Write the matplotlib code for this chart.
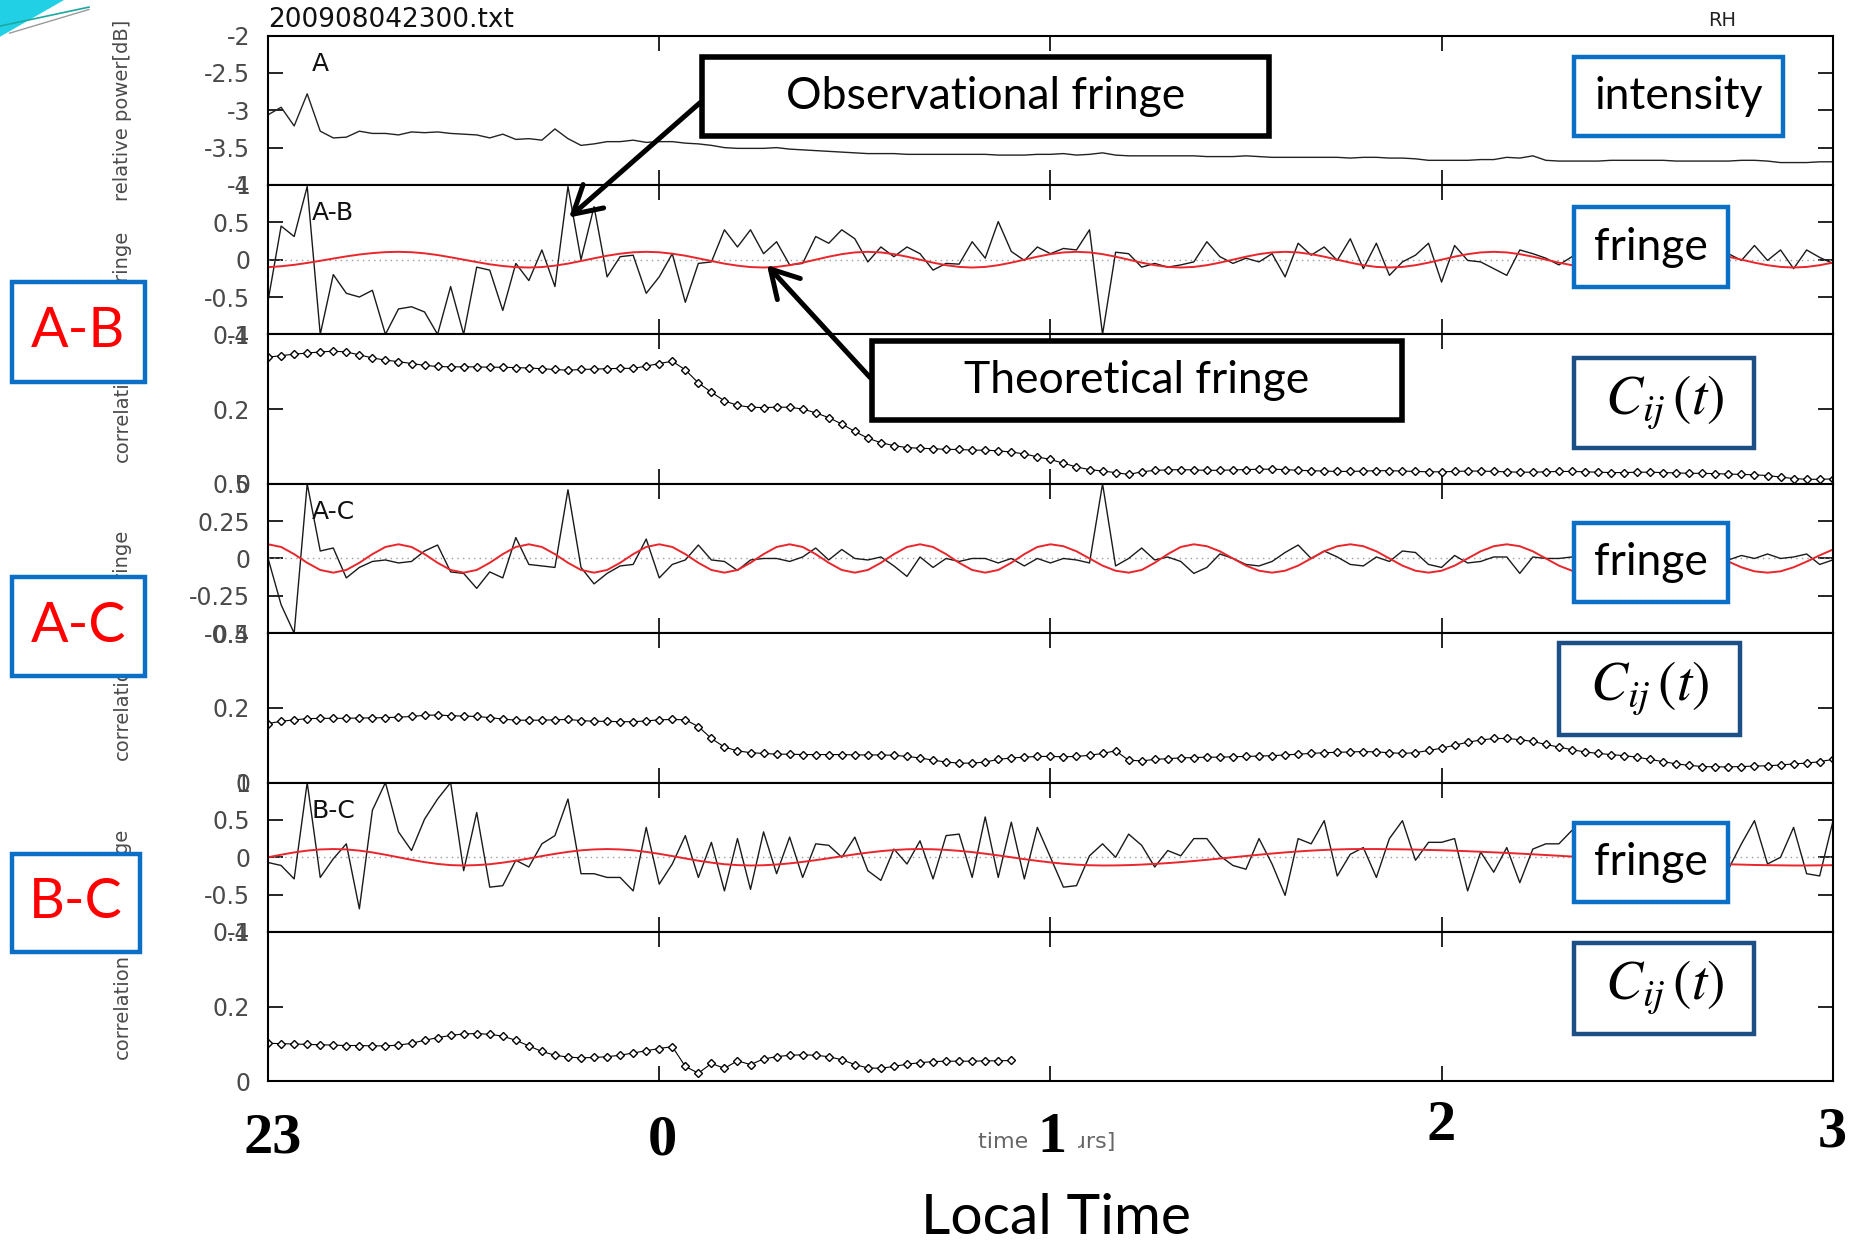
import numpy as np
import matplotlib
matplotlib.use("Agg")
import matplotlib.pyplot as plt
from matplotlib.patches import Rectangle, FancyArrowPatch, Polygon
from matplotlib.lines import Line2D

# ---------- data: samples every 2 min after 23:00 ----------
minutes = np.arange(0, 241, 2)

intensity_a = [
    -3.06, -2.96, -3.21, -2.78, -3.28, -3.37, -3.36, -3.28, -3.31, -3.31,
    -3.33, -3.29, -3.30, -3.29, -3.31, -3.32, -3.33, -3.37, -3.32, -3.39,
    -3.38, -3.40, -3.25, -3.38, -3.47, -3.45, -3.42, -3.42,
    -3.40, -3.43, -3.42, -3.42, -3.44, -3.45, -3.47, -3.50, -3.51, -3.51,
    -3.51, -3.50, -3.52, -3.53, -3.54, -3.55, -3.56, -3.57, -3.58, -3.58,
    -3.58, -3.59, -3.59, -3.59, -3.59, -3.59, -3.59, -3.59, -3.60, -3.60,
    -3.60, -3.59, -3.59, -3.58, -3.60, -3.59, -3.57, -3.60, -3.61, -3.61,
    -3.61, -3.61, -3.61, -3.61, -3.62, -3.62, -3.62, -3.61,
    -3.62, -3.63, -3.63, -3.63, -3.63, -3.63, -3.63, -3.64, -3.63, -3.63,
    -3.64, -3.64, -3.65, -3.67, -3.67, -3.67, -3.67, -3.66, -3.66, -3.63,
    -3.64, -3.61, -3.67, -3.68, -3.68, -3.68, -3.68, -3.67, -3.67, -3.67,
    -3.67, -3.67, -3.68, -3.68, -3.68, -3.68, -3.68, -3.67, -3.67, -3.68,
    -3.70, -3.70, -3.70, -3.69, -3.69,
]

fringe_ab = [
    -0.55, 0.45, 0.31, 0.98, -1.0, -0.2, -0.45, -0.50, -0.41, -1.0,
    -0.66, -0.63, -0.70, -1.0, -0.36, -1.0, -0.10, -0.14, -0.68, -0.05,
    -0.28, 0.13, -0.36, 0.98, 0.0, 0.71, -0.23, 0.04, 0.06, -0.45,
    -0.23, 0.08, -0.57, -0.05, -0.03, 0.40, 0.17, 0.40, 0.08, 0.24,
    -0.07, -0.05, 0.31, 0.22, 0.40, 0.28, -0.03, 0.17, 0.04, 0.17,
    0.08, -0.14, -0.05, -0.06, 0.24, 0.02, 0.51, 0.11, -0.01, 0.17,
    0.08, 0.15, 0.13, 0.40, -1.0, 0.10, 0.08, -0.10, -0.05, -0.10,
    -0.07, -0.03, 0.24, 0.04, -0.05, 0.02, -0.03, 0.08, -0.23, 0.22,
    0.06, 0.17, -0.01, 0.28, -0.12, 0.22, -0.21, -0.03, 0.06, 0.22,
    -0.30, 0.19, -0.01, -0.03, -0.12, -0.21, 0.13, 0.08, 0.02, -0.07,
    0.04, 0.10, -0.05, 0.12, -0.08, 0.05, 0.15, -0.10, 0.06, -0.04,
    0.10, 0.0, 0.08, -0.01, 0.19, -0.01, 0.13, -0.12, 0.13, 0.03,
    -0.05,
]

theory_ab = [
    -0.101, -0.088, -0.069, -0.044, -0.015, 0.015, 0.044, 0.069, 0.088, 0.101, 0.105,
    0.100, 0.085, 0.062, 0.032, 0.0, -0.032, -0.062, -0.085, -0.100, -0.105,
    -0.099, -0.080, -0.053, -0.018, 0.018, 0.053, 0.080, 0.099, 0.105,
    0.099, 0.080, 0.053, 0.018, -0.018, -0.053, -0.080, -0.099, -0.105,
    -0.097, -0.074, -0.040, 0.0, 0.040, 0.074, 0.097, 0.105,
    0.097, 0.074, 0.040, 0.0, -0.040, -0.074, -0.097, -0.105,
    -0.097, -0.074, -0.040, 0.0, 0.040, 0.074, 0.097, 0.105,
    0.097, 0.074, 0.040, 0.0, -0.040, -0.074, -0.097, -0.105,
    -0.097, -0.074, -0.040, 0.0, 0.040, 0.074, 0.097, 0.105,
    0.097, 0.074, 0.040, 0.0, -0.040, -0.074, -0.097, -0.105,
    -0.097, -0.074, -0.040, 0.0, 0.040, 0.074, 0.097, 0.105,
    0.097, 0.074, 0.040, 0.0, -0.040, -0.074, -0.097, -0.105,
    -0.095, -0.065, -0.023, 0.023, 0.065, 0.095, 0.105,
    0.097, 0.074, 0.040, 0.0, -0.040, -0.074, -0.097, -0.105,
    -0.097, -0.074, -0.040,
]

corr_ab = [
    0.339, 0.343, 0.347, 0.350, 0.353, 0.355, 0.353, 0.345, 0.337, 0.331,
    0.327, 0.322, 0.317, 0.314, 0.313, 0.313, 0.313, 0.312, 0.312, 0.311,
    0.310, 0.308, 0.306, 0.304, 0.306, 0.307, 0.308, 0.309,
    0.309, 0.315, 0.322, 0.328, 0.305, 0.27, 0.245, 0.222, 0.210, 0.205,
    0.204, 0.205, 0.205, 0.200, 0.190, 0.177, 0.160, 0.140, 0.122, 0.110,
    0.102, 0.097, 0.095, 0.094, 0.092, 0.092, 0.090, 0.090, 0.088, 0.085,
    0.080, 0.072,
    0.065, 0.055, 0.045, 0.038, 0.034, 0.030, 0.025, 0.032, 0.036, 0.037,
    0.038, 0.037, 0.036, 0.036, 0.037, 0.038, 0.039, 0.039, 0.038, 0.036,
    0.035, 0.034, 0.033, 0.033, 0.034, 0.035, 0.035, 0.034, 0.033, 0.032,
    0.032, 0.033, 0.034, 0.034, 0.033, 0.032, 0.031, 0.031, 0.032, 0.033,
    0.033, 0.032, 0.031, 0.030, 0.030, 0.031, 0.031, 0.030, 0.029, 0.028,
    0.028, 0.027, 0.026, 0.025, 0.024, 0.022, 0.018, 0.014, 0.012, 0.012,
    0.013,
]

fringe_ac = [
    0.0, -0.31, -0.5, 0.5, 0.05, 0.07, -0.13, -0.06, -0.02, -0.01,
    -0.03, -0.02, 0.05, 0.09, -0.09, -0.10, -0.20, -0.09, -0.13, 0.14,
    -0.04, -0.05, -0.06, 0.46, -0.06, -0.17, -0.10, -0.05, -0.04, 0.13,
    -0.13, -0.04, -0.01, 0.09, -0.01, -0.02, -0.08, -0.01, 0.0, 0.0,
    -0.02, 0.01, 0.07, -0.01, 0.06, 0.0, -0.01, 0.01, -0.05, -0.12,
    0.01, -0.06, 0.0, -0.02, 0.0, 0.0, -0.03, 0.0, -0.05, 0.0,
    -0.03,
    0.0, -0.01, -0.03, 0.5, -0.05, 0.0, 0.07, -0.01, 0.01, -0.02,
    -0.10, -0.06, 0.03, 0.0, -0.04, -0.05, -0.02, 0.04, 0.09, 0.0,
    0.05, 0.01, -0.04, -0.05, 0.01, -0.02, 0.05, 0.04, -0.04, -0.06,
    0.02, -0.03, -0.02, 0.01, 0.01, -0.10, 0.01, 0.0, 0.0, 0.01,
    0.02, -0.01, 0.0, 0.03, -0.02, 0.01, -0.03, 0.02, 0.0, -0.01,
    0.01, -0.01, 0.02, 0.0, 0.03, 0.0, 0.01, 0.03, -0.04, -0.01,
]

theory_ac = [
    0.095,
    0.077, 0.029, -0.029, -0.077, -0.095,
    -0.077, -0.029, 0.029, 0.077, 0.095,
    0.077, 0.029, -0.029, -0.077, -0.095,
    -0.077, -0.029, 0.029, 0.077, 0.095,
    0.077, 0.029, -0.029, -0.077, -0.095,
    -0.077, -0.029, 0.029, 0.077, 0.095,
    0.077, 0.029, -0.029, -0.077, -0.095,
    -0.077, -0.029, 0.029, 0.077, 0.095,
    0.077, 0.029, -0.029, -0.077, -0.095,
    -0.077, -0.029, 0.029, 0.077, 0.095,
    0.077, 0.029, -0.029, -0.077, -0.095,
    -0.077, -0.029, 0.029, 0.077, 0.095,
    0.082, 0.048, 0.0, -0.048, -0.082, -0.095,
    -0.077, -0.029, 0.029, 0.077, 0.095,
    0.082, 0.048, 0.0, -0.048, -0.082, -0.095,
    -0.082, -0.048, 0.0, 0.048, 0.082, 0.095,
    0.082, 0.048, 0.0, -0.048, -0.082, -0.095,
    -0.082, -0.048, 0.0, 0.048, 0.082, 0.095,
    0.082, 0.048, 0.0, -0.048, -0.082, -0.095,
    -0.086, -0.059, -0.021, 0.021, 0.059, 0.086, 0.095,
    0.086, 0.059, 0.021, -0.021, -0.059, -0.086, -0.095,
    -0.086, -0.059, -0.021, 0.021, 0.059,
]

corr_ac = [
    0.158, 0.164, 0.168, 0.171, 0.172, 0.172, 0.172, 0.173, 0.173, 0.174,
    0.175, 0.177, 0.180, 0.181, 0.179, 0.178, 0.177, 0.174, 0.170, 0.167,
    0.167, 0.167, 0.168, 0.169, 0.166, 0.164, 0.164, 0.163,
    0.163, 0.165, 0.168, 0.169, 0.168, 0.150, 0.118, 0.095, 0.085, 0.080,
    0.078, 0.076, 0.076, 0.075, 0.075, 0.075, 0.075, 0.074, 0.074, 0.074,
    0.073, 0.070, 0.066, 0.060, 0.055, 0.052, 0.052, 0.055, 0.062, 0.066,
    0.068, 0.070, 0.070, 0.069, 0.070, 0.073, 0.078, 0.085, 0.060, 0.058,
    0.062, 0.064, 0.066, 0.067, 0.068, 0.068, 0.069, 0.070, 0.071, 0.072,
    0.074, 0.076, 0.078, 0.080, 0.081, 0.082, 0.083, 0.082, 0.080, 0.078,
    0.080, 0.086, 0.092, 0.100, 0.108, 0.114, 0.118, 0.118, 0.115, 0.110,
    0.102, 0.095, 0.088, 0.082, 0.078, 0.075, 0.072, 0.068, 0.062, 0.056,
    0.050, 0.046, 0.043, 0.042, 0.042, 0.043, 0.044, 0.045, 0.047, 0.050,
    0.052, 0.056, 0.062,
]

fringe_bc = [
    -0.07, -0.11, -0.29, 1.0, -0.27, -0.02, 0.18, -0.69, 0.63, 1.0,
    0.34, 0.09, 0.51, 0.78, 1.0, -0.18, 0.60, -0.40, -0.38, -0.04,
    -0.13, 0.18, 0.29, 0.78, -0.22, -0.22, -0.27, -0.27, -0.45, 0.40,
    -0.36, -0.09, 0.29, -0.27, 0.20, -0.45, 0.25, -0.43, 0.34, -0.22,
    0.27, -0.27, 0.18, 0.16, 0.0, 0.27, -0.18, -0.31, 0.11, -0.09,
    0.22, -0.29, 0.29, 0.31, -0.27, 0.54, -0.27, 0.47, -0.29, 0.40,
    0.0,
    -0.40, -0.38, 0.02, 0.18, 0.0, 0.31, 0.16, -0.13, 0.09, 0.02,
    0.25, 0.25, 0.02, -0.11, -0.16, 0.25, -0.09, -0.51, 0.25, 0.18,
    0.49, -0.25, 0.04, 0.13, -0.27, 0.25, 0.49, -0.04, 0.20, 0.20,
    0.25, -0.45, 0.07, -0.20, 0.13, -0.34, 0.11, 0.18, 0.18, 0.36,
    0.10, -0.20, 0.25, -0.10, 0.30, -0.15, 0.20, 0.05, -0.20, 0.30,
    -0.10, -0.16, 0.18, 0.49, -0.09, 0.0, 0.40, -0.22, -0.25, 0.47,
]

theory_bc = [
    0.0, 0.034, 0.065, 0.089, 0.105, 0.110,
    0.105, 0.089, 0.065, 0.034, 0.0, -0.034, -0.065, -0.089, -0.105, -0.110,
    -0.105, -0.093, -0.072, -0.046, -0.016, 0.016, 0.046, 0.072, 0.093, 0.105, 0.110,
    0.105, 0.093, 0.072, 0.046, 0.016, -0.016, -0.046, -0.072, -0.093, -0.105, -0.110,
    -0.107, -0.097, -0.082, -0.062, -0.039, -0.013, 0.013, 0.039, 0.062, 0.082,
    0.097, 0.107, 0.110,
    0.107, 0.099, 0.086, 0.069, 0.048, 0.025, 0.0, -0.025, -0.048, -0.069,
    -0.086, -0.099, -0.107, -0.110,
    -0.109, -0.105, -0.098, -0.089, -0.078, -0.065, -0.050, -0.034, -0.017, 0.0,
    0.017, 0.034, 0.050, 0.065, 0.078, 0.089, 0.098, 0.105, 0.109, 0.110,
    0.110, 0.108, 0.106, 0.103, 0.098, 0.094, 0.088, 0.081, 0.074, 0.066,
    0.058, 0.049, 0.040, 0.030, 0.020, 0.010, 0.0, -0.010, -0.020, -0.030,
    -0.040, -0.049, -0.058, -0.066, -0.074, -0.081, -0.088, -0.094, -0.098, -0.103,
    -0.106, -0.108, -0.110, -0.110, -0.108, -0.106,
]

corr_bc = [
    0.102, 0.101, 0.100, 0.099, 0.098, 0.097, 0.096, 0.096, 0.095, 0.095,
    0.097, 0.102, 0.110, 0.117, 0.123, 0.127, 0.128, 0.126, 0.121, 0.110,
    0.095, 0.080, 0.070, 0.065, 0.063, 0.064, 0.066, 0.070, 0.076, 0.082,
    0.088, 0.093, 0.040, 0.022, 0.048, 0.035, 0.055, 0.045, 0.060, 0.066,
    0.070, 0.071, 0.070, 0.066, 0.058, 0.045, 0.036, 0.035, 0.040, 0.046,
    0.050, 0.053, 0.054, 0.054, 0.054, 0.055, 0.055, 0.056,
]

hour_labels = ["23", "0", "1", "2", "3"]

# ---------- figure ----------
plt.rcParams["font.family"] = ["DejaVu Sans"]
plt.rcParams["mathtext.fontset"] = "stix"
plt.rcParams["axes.unicode_minus"] = False

# layout is measured on a 1568 x 1050 copy of the slide
W, H = 1568.0, 1050.0
def fx(x):
    return x / W
def fy(y):
    return 1 - y / H

fig = plt.figure(figsize=(18.6, 12.45), dpi=100)
fig.patch.set_facecolor("white")
axes = fig.subplots(7, 1, sharex=True,
                    gridspec_kw=dict(hspace=0, left=fx(226), right=fx(1545),
                                     top=fy(30), bottom=fy(912)))

hours = minutes / 60.0
TXT = "#4a4a4a"
RED = "#e8262b"

panels = [
    ("line", intensity_a, None, (-4, -2), [-4, -3.5, -3, -2.5, -2],
     ["-4", "-3.5", "-3", "-2.5", "-2"], "relative power[dB]", "A"),
    ("fringe", fringe_ab, theory_ab, (-1, 1), [-1, -0.5, 0, 0.5, 1],
     ["-1", "-0.5", "0", "0.5", "1"], "fringe", "A-B"),
    ("corr", corr_ab, None, (0, 0.4), [0, 0.2, 0.4],
     ["0", "0.2", "0.4"], "correlation", None),
    ("fringe", fringe_ac, theory_ac, (-0.5, 0.5), [-0.5, -0.25, 0, 0.25, 0.5],
     ["-0.5", "-0.25", "0", "0.25", "0.5"], "fringe", "A-C"),
    ("corr", corr_ac, None, (0, 0.4), [0, 0.2, 0.4],
     ["0", "0.2", "0.4"], "correlation", None),
    ("fringe", fringe_bc, theory_bc, (-1, 1), [-1, -0.5, 0, 0.5, 1],
     ["-1", "-0.5", "0", "0.5", "1"], "fringe", "B-C"),
    ("corr", corr_bc, None, (0, 0.4), [0, 0.2, 0.4],
     ["0", "0.2", "0.4"], "correlation", None),
]

for ax, (kind, obs, theo, ylim, yt, ytl, ylab, tag) in zip(axes, panels):
    t = hours[:len(obs)]
    if kind == "line":
        ax.plot(t, obs, color="#222222", lw=1.0)
    elif kind == "fringe":
        ax.axhline(0, color="#9a9a9a", ls=(0, (1, 3)), lw=1.0)
        ax.plot(t, obs, color="#1a1a1a", lw=1.0)
        ax.plot(hours[:len(theo)], theo, color=RED, lw=1.4)
    else:
        ax.plot(t, obs, color="black", lw=0.8, marker="D", ms=4.2,
                mfc="white", mec="black", mew=1.0)
    ax.set_xlim(0, 4)
    ax.set_ylim(*ylim)
    ax.set_yticks(yt)
    ax.set_yticklabels(ytl)
    ax.set_xticks([1, 2, 3])
    ax.tick_params(axis="x", direction="in", top=True, bottom=True,
                   length=11, width=1.2, labelbottom=False)
    ax.tick_params(axis="y", direction="in", left=True, right=True,
                   length=11, width=1.2, labelsize=17, labelcolor=TXT, pad=13)
    for s in ax.spines.values():
        s.set_linewidth(1.5)
    ax.set_ylabel(ylab, fontsize=14, color=TXT)
    ax.yaxis.set_label_coords(-0.087, 0.5)
    if tag:
        ax.text(0.028, 0.81, tag, transform=ax.transAxes, fontsize=18,
                ha="left", va="center", color="#111111")

fig.text(fx(226), fy(17), "200908042300.txt", fontsize=19, ha="left",
         va="center", color="#111111")
fig.text(fx(1452), fy(17), "RH", fontsize=14, ha="center", va="center",
         color="#222222")

# ---------- slide annotations ----------
SLIDE = ["Lato", "DejaVu Sans"]
BLUE = "#0b6fc6"
NAVY = "#1c4f86"

def slide_box(x0, y0, x1, y1, text, edge, color="black", size=32, lw=3.2,
              family=SLIDE):
    fig.add_artist(Rectangle((fx(x0), fy(y1)), fx(x1) - fx(x0), fy(y0) - fy(y1),
                             transform=fig.transFigure, facecolor="white",
                             edgecolor=edge, lw=lw, zorder=5))
    fig.text(fx((x0 + x1) / 2), fy((y0 + y1) / 2), text, fontsize=size,
             color=color, ha="center", va="center", family=family, zorder=6)

slide_box(592, 48, 1070, 115, "Observational fringe", "black", lw=4)
slide_box(735, 288, 1182, 354, "Theoretical fringe", "black", lw=4)
slide_box(1327, 48, 1503, 115, "intensity", BLUE)
for y0 in (175, 441, 694):
    slide_box(1327, y0, 1457, y0 + 67, "fringe", BLUE)
cij = r"$C_{ij}\,(t)$"
slide_box(1327, 302, 1479, 378, cij, NAVY, size=40)
slide_box(1314, 542, 1467, 620, cij, NAVY, size=40)
slide_box(1327, 795, 1479, 872, cij, NAVY, size=40)
slide_box(10, 238, 122, 322, "A-B", BLUE, color="#ff0000", size=40)
slide_box(10, 487, 122, 570, "A-C", BLUE, color="#ff0000", size=40)
slide_box(10, 720, 118, 803, "B-C", BLUE, color="#ff0000", size=40)

for (xa, ya), (xb, yb) in [((592, 85), (478, 185)), ((735, 320), (645, 222))]:
    fig.add_artist(FancyArrowPatch((fx(xa), fy(ya)), (fx(xb), fy(yb)),
                                   transform=fig.transFigure,
                                   arrowstyle="->,head_length=0.7,head_width=0.4",
                                   mutation_scale=28, lw=3.6, color="black",
                                   zorder=6))

# corner decoration of the slide
fig.add_artist(Polygon([(fx(0), fy(0)), (fx(54), fy(0)), (fx(0), fy(31))],
                       closed=True, transform=fig.transFigure,
                       facecolor="#22d0e6", edgecolor="none", zorder=4))
fig.add_artist(Line2D([fx(0), fx(75)], [fy(22), fy(6)], transform=fig.transFigure,
                      color="#1aa9a0", lw=1.2, zorder=4))
fig.add_artist(Line2D([fx(8), fx(75)], [fy(28), fy(8)], transform=fig.transFigure,
                      color="#9a9a9a", lw=1.0, zorder=4))

# hour labels written on the slide
fig.text(fx(882), fy(963), "time [hours]", fontsize=16, color="#666666",
         ha="center", va="center")
for lab, (x, y) in zip(hour_labels, [(230, 960), (558, 962), (887, 960),
                                     (1215, 950), (1545, 955)]):
    fig.text(fx(x), fy(y), lab, fontsize=42, fontweight="bold",
             family=["Liberation Serif", "DejaVu Serif"], ha="center",
             va="center", color="black",
             bbox=dict(facecolor="white", edgecolor="none", pad=8))
fig.text(fx(890), fy(1028), "Local Time", fontsize=41, family=SLIDE,
         ha="center", va="center", color="black")

fig.savefig("out.png", dpi=100, facecolor="white")
